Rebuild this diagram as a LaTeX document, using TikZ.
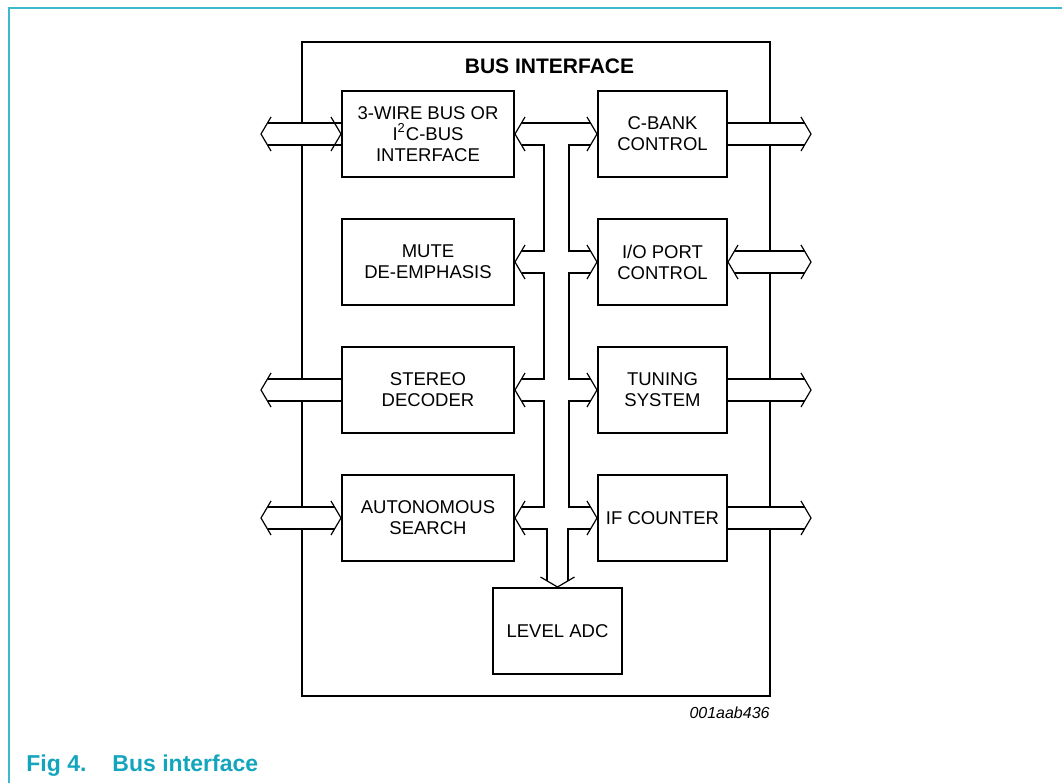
\documentclass[tikz,border=0pt]{standalone}
\usepackage{fontspec}
\setmainfont{Liberation Sans}
\usetikzlibrary{backgrounds}
\definecolor{figblue}{RGB}{20,165,190}
\definecolor{frameblue}{RGB}{60,185,205}
\tikzstyle{block} = [draw, rectangle, line width=1pt, align=center, minimum height=43pt, font=\fontsize{9.25pt}{10.5pt}\selectfont]
\tikzstyle{wide} = [block, minimum width=86pt]
\tikzstyle{narrow} = [block, minimum width=64.5pt]
\tikzstyle{wall} = [line width=11.6pt]
\tikzstyle{core} = [white, line width=10.4pt]
\tikzset{chevron/.pic={\draw [line width=0.6pt] (-5pt,-8.5pt) -- (0,0) -- (-5pt,8.5pt);}}
% all horizontal bus pieces, drawn once as wall and once as core
\newcommand{\busrows}{
	([xshift=3.25pt]wire.east) -- ([xshift=-3.25pt]cbank.west)
	([xshift=3.25pt]mute.east) -- ([xshift=-3.25pt]ioport.west)
	([xshift=3.25pt]stereo.east) -- ([xshift=-3.25pt]tuning.west)
	([xshift=3.25pt]search.east) -- ([xshift=-3.25pt]ifcount.west)
	([xshift=3.25pt]wirein) -- (wire.west)
	(cbank.east) -- ([xshift=-3.25pt]cbankout)
	([xshift=3.25pt]ioport.east) -- ([xshift=-3.25pt]ioportout)
	([xshift=3.25pt]stereoout) -- (stereo.west)
	(tuning.east) -- ([xshift=-3.25pt]tuningout)
	([xshift=3.25pt]searchin) -- ([xshift=-3.25pt]search.west)
	(ifcount.east) -- ([xshift=-3.25pt]ifcountout)
}

\begin{document}
\begin{tikzpicture}[x=0.5pt,y=-0.5pt,node distance=64pt]
	\useasboundingbox (0,0) rectangle (1062,783);
	\draw [frameblue, line width=0.75pt] (1062,8) -- (9,8) -- (9,783);

	% put the blocks where we want them
	\node [font=\bfseries\fontsize{10.5pt}{12pt}\selectfont] (title) at (549.5,66) {BUS INTERFACE};
	\node [wide] (wire) at (428,134) {3-WIRE BUS OR\\I\textsuperscript{2}C-BUS\\INTERFACE};
	\node [wide,below of=wire] (mute) {MUTE\\DE-EMPHASIS};
	\node [wide,below of=mute] (stereo) {STEREO\\DECODER};
	\node [wide,below of=stereo] (search) {AUTONOMOUS\\SEARCH};
	\node [narrow,right of=wire,node distance=117.25pt] (cbank) {C-BANK\\CONTROL};
	\node [narrow,below of=cbank] (ioport) {I/O PORT\\CONTROL};
	\node [narrow,below of=ioport] (tuning) {TUNING\\SYSTEM};
	\node [narrow,below of=tuning] (ifcount) {IF COUNTER};
	\node [narrow] (level) at (557.5,631) {LEVEL ADC};
	\node [font=\itshape\fontsize{8pt}{9pt}\selectfont,anchor=east,inner sep=0pt] (code) at (770,713) {001aab436};
	\node [font=\bfseries\fontsize{11.5pt}{13pt}\selectfont,text=figblue,anchor=west,inner sep=0pt] (caption) at (26,766) {Fig 4.\hspace{13pt}Bus interface};

	% outside ends of the buses
	\coordinate (wirein) at ([xshift=-40pt]wire.west);
	\coordinate (cbankout) at ([xshift=41.5pt]cbank.east);
	\coordinate (ioportout) at ([xshift=41.5pt]ioport.east);
	\coordinate (stereoout) at ([xshift=-40pt]stereo.west);
	\coordinate (tuningout) at ([xshift=41.5pt]tuning.east);
	\coordinate (searchin) at ([xshift=-40pt]search.west);
	\coordinate (ifcountout) at ([xshift=41.5pt]ifcount.east);
	\coordinate (bustop) at ([xshift=20.75pt]wire.east);

	% the buses: black walls first, white inside over them
	\begin{scope}[on background layer]
		\draw [line width=1pt] (302,42) rectangle (770,696);
		\draw [wall] \busrows;
		\draw [wall,line width=13.1pt] (bustop) -- (bustop |- search.east);
		\draw [wall,line width=11.1pt] (level.north |- search.east) -- ([yshift=3.25pt]level.north);
		\draw [core] \busrows;
		\draw [core,line width=11.9pt] (bustop) -- (bustop |- search.east);
		\draw [core,line width=9.9pt] (level.north |- search.east) -- ([yshift=3.25pt]level.north);
	\end{scope}

	% arrow heads
	\pic [rotate=180] at (wire.east) {chevron};
	\pic at (cbank.west) {chevron};
	\pic [rotate=180] at (mute.east) {chevron};
	\pic at (ioport.west) {chevron};
	\pic [rotate=180] at (stereo.east) {chevron};
	\pic at (tuning.west) {chevron};
	\pic [rotate=180] at (search.east) {chevron};
	\pic at (ifcount.west) {chevron};
	\pic [rotate=-90] at (level.north) {chevron};
	\pic [rotate=180] at (wirein) {chevron};
	\pic at (wire.west) {chevron};
	\pic at (cbankout) {chevron};
	\pic [rotate=180] at (ioport.east) {chevron};
	\pic at (ioportout) {chevron};
	\pic [rotate=180] at (stereoout) {chevron};
	\pic at (tuningout) {chevron};
	\pic [rotate=180] at (searchin) {chevron};
	\pic at (search.west) {chevron};
	\pic at (ifcountout) {chevron};
\end{tikzpicture}
\end{document}
